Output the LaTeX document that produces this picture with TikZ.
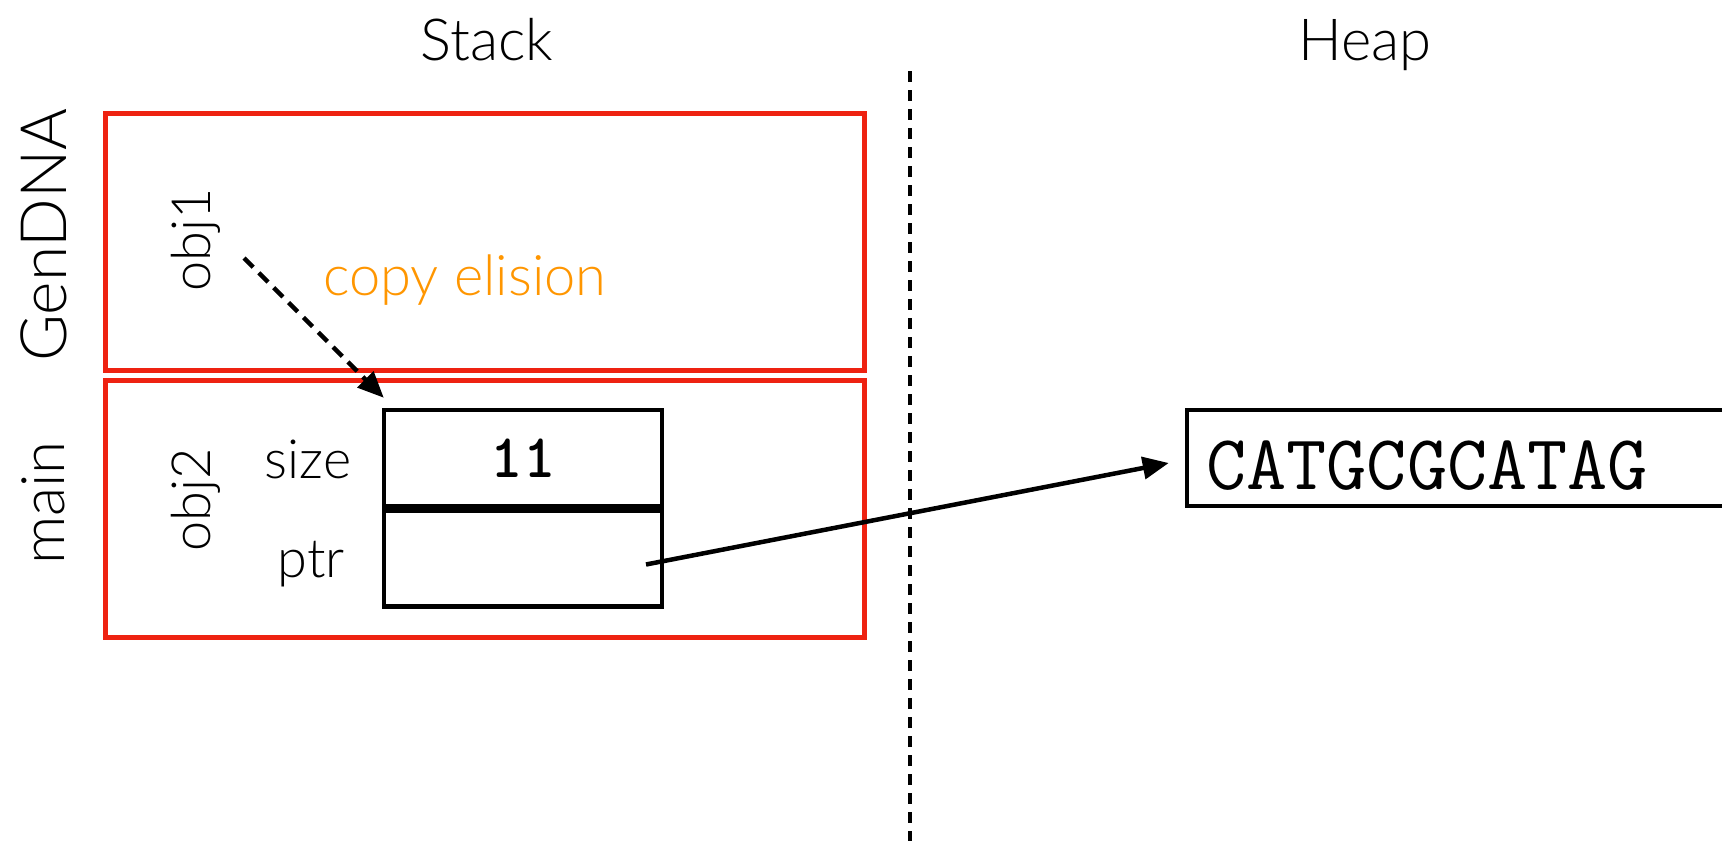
\documentclass[tikz,border=0pt]{standalone}
\usepackage{fontspec}
\setmainfont{Lato}[UprightFont=* Light]
\usetikzlibrary{arrows.meta}
\definecolor{framered}{RGB}{238,34,17}
\definecolor{noteorange}{RGB}{255,150,0}
\begin{document}
\begin{tikzpicture}[x=1pt,y=-1pt,
  framebox/.style={draw=framered,line width=5pt,minimum width=759pt,minimum height=257pt,inner sep=0pt},
  cellbox/.style={draw=black,line width=4.5pt,minimum width=278pt,minimum height=96pt,inner sep=0pt},
  txt/.style={font=\fontsize{#1}{#1}\selectfont,inner sep=0pt},
  sidetxt/.style={txt=#1,rotate=90,anchor=base},
  link/.style={line width=4.5pt,-{Triangle[length=26pt,width=22pt]}},
  dashlink/.style={link,dash pattern=on 13pt off 8pt},
  divider/.style={line width=4pt,dash pattern=on 11pt off 8pt}
]
\useasboundingbox (0,0) rectangle (1722,841);
\fill[white] (0,0) rectangle (1722,841);
\clip (0,0) rectangle (1722,841);

% column headings
\node[txt=58,anchor=base] (stack) at (487,60) {Stack};
\node[txt=58,anchor=base] (heap) at (1365,60) {Heap};

% stack / heap divider
\coordinate (divtop) at (910,71);
\coordinate (divbot) at (910,841);
\draw[divider] (divtop) -- (divbot);

% stack frames
\node[framebox] (genframe) at (484.5,241.5) {};
\node[framebox] (mainframe) at (484.5,508.5) {};
\node[sidetxt=64] (genlbl) at (66,235) {GenDNA};
\node[sidetxt=60] (mainlbl) at (64,503) {main};

% objects inside the frames
\node[sidetxt=54] (obj1) at (210,240) {obj1};
\node[sidetxt=54] (obj2) at (210,500) {obj2};
\node[txt=56,anchor=base,text=noteorange] (elision) at (465,295) {copy elision};

% fields of obj2
\node[cellbox] (sizecell) at (523,458) {\ttfamily\bfseries\fontsize{62}{62}\selectfont 11};
\node[cellbox,anchor=north] (ptrcell) at (sizecell.south) {};
\node[txt=54,anchor=base] (sizelbl) at (308,478) {size};
\node[txt=54,anchor=base] (ptrlbl) at (311,577) {ptr};

% heap buffer
\node[draw=black,line width=4.5pt,minimum width=553pt,minimum height=96pt,inner sep=0pt] (heapcell) at (1463.5,458) {};
\node[anchor=base west,inner sep=0pt,font=\ttfamily\fontsize{78}{78}\selectfont] (dna) at (1206,489) {CATGCGCATAG};

% connectors
\coordinate (elisionstart) at (244,258);
\coordinate (elisionend) at ([yshift=10pt,xshift=2pt]sizecell.north west);
\draw[dashlink] (elisionstart) -- (elisionend);
\coordinate (ptrtail) at ([xshift=123pt,yshift=-6pt]ptrcell.center);
\coordinate (ptrhead) at ([xshift=-16pt,yshift=-5pt]heapcell.west);
\draw[link] (ptrtail) -- (ptrhead);
\end{tikzpicture}
\end{document}
